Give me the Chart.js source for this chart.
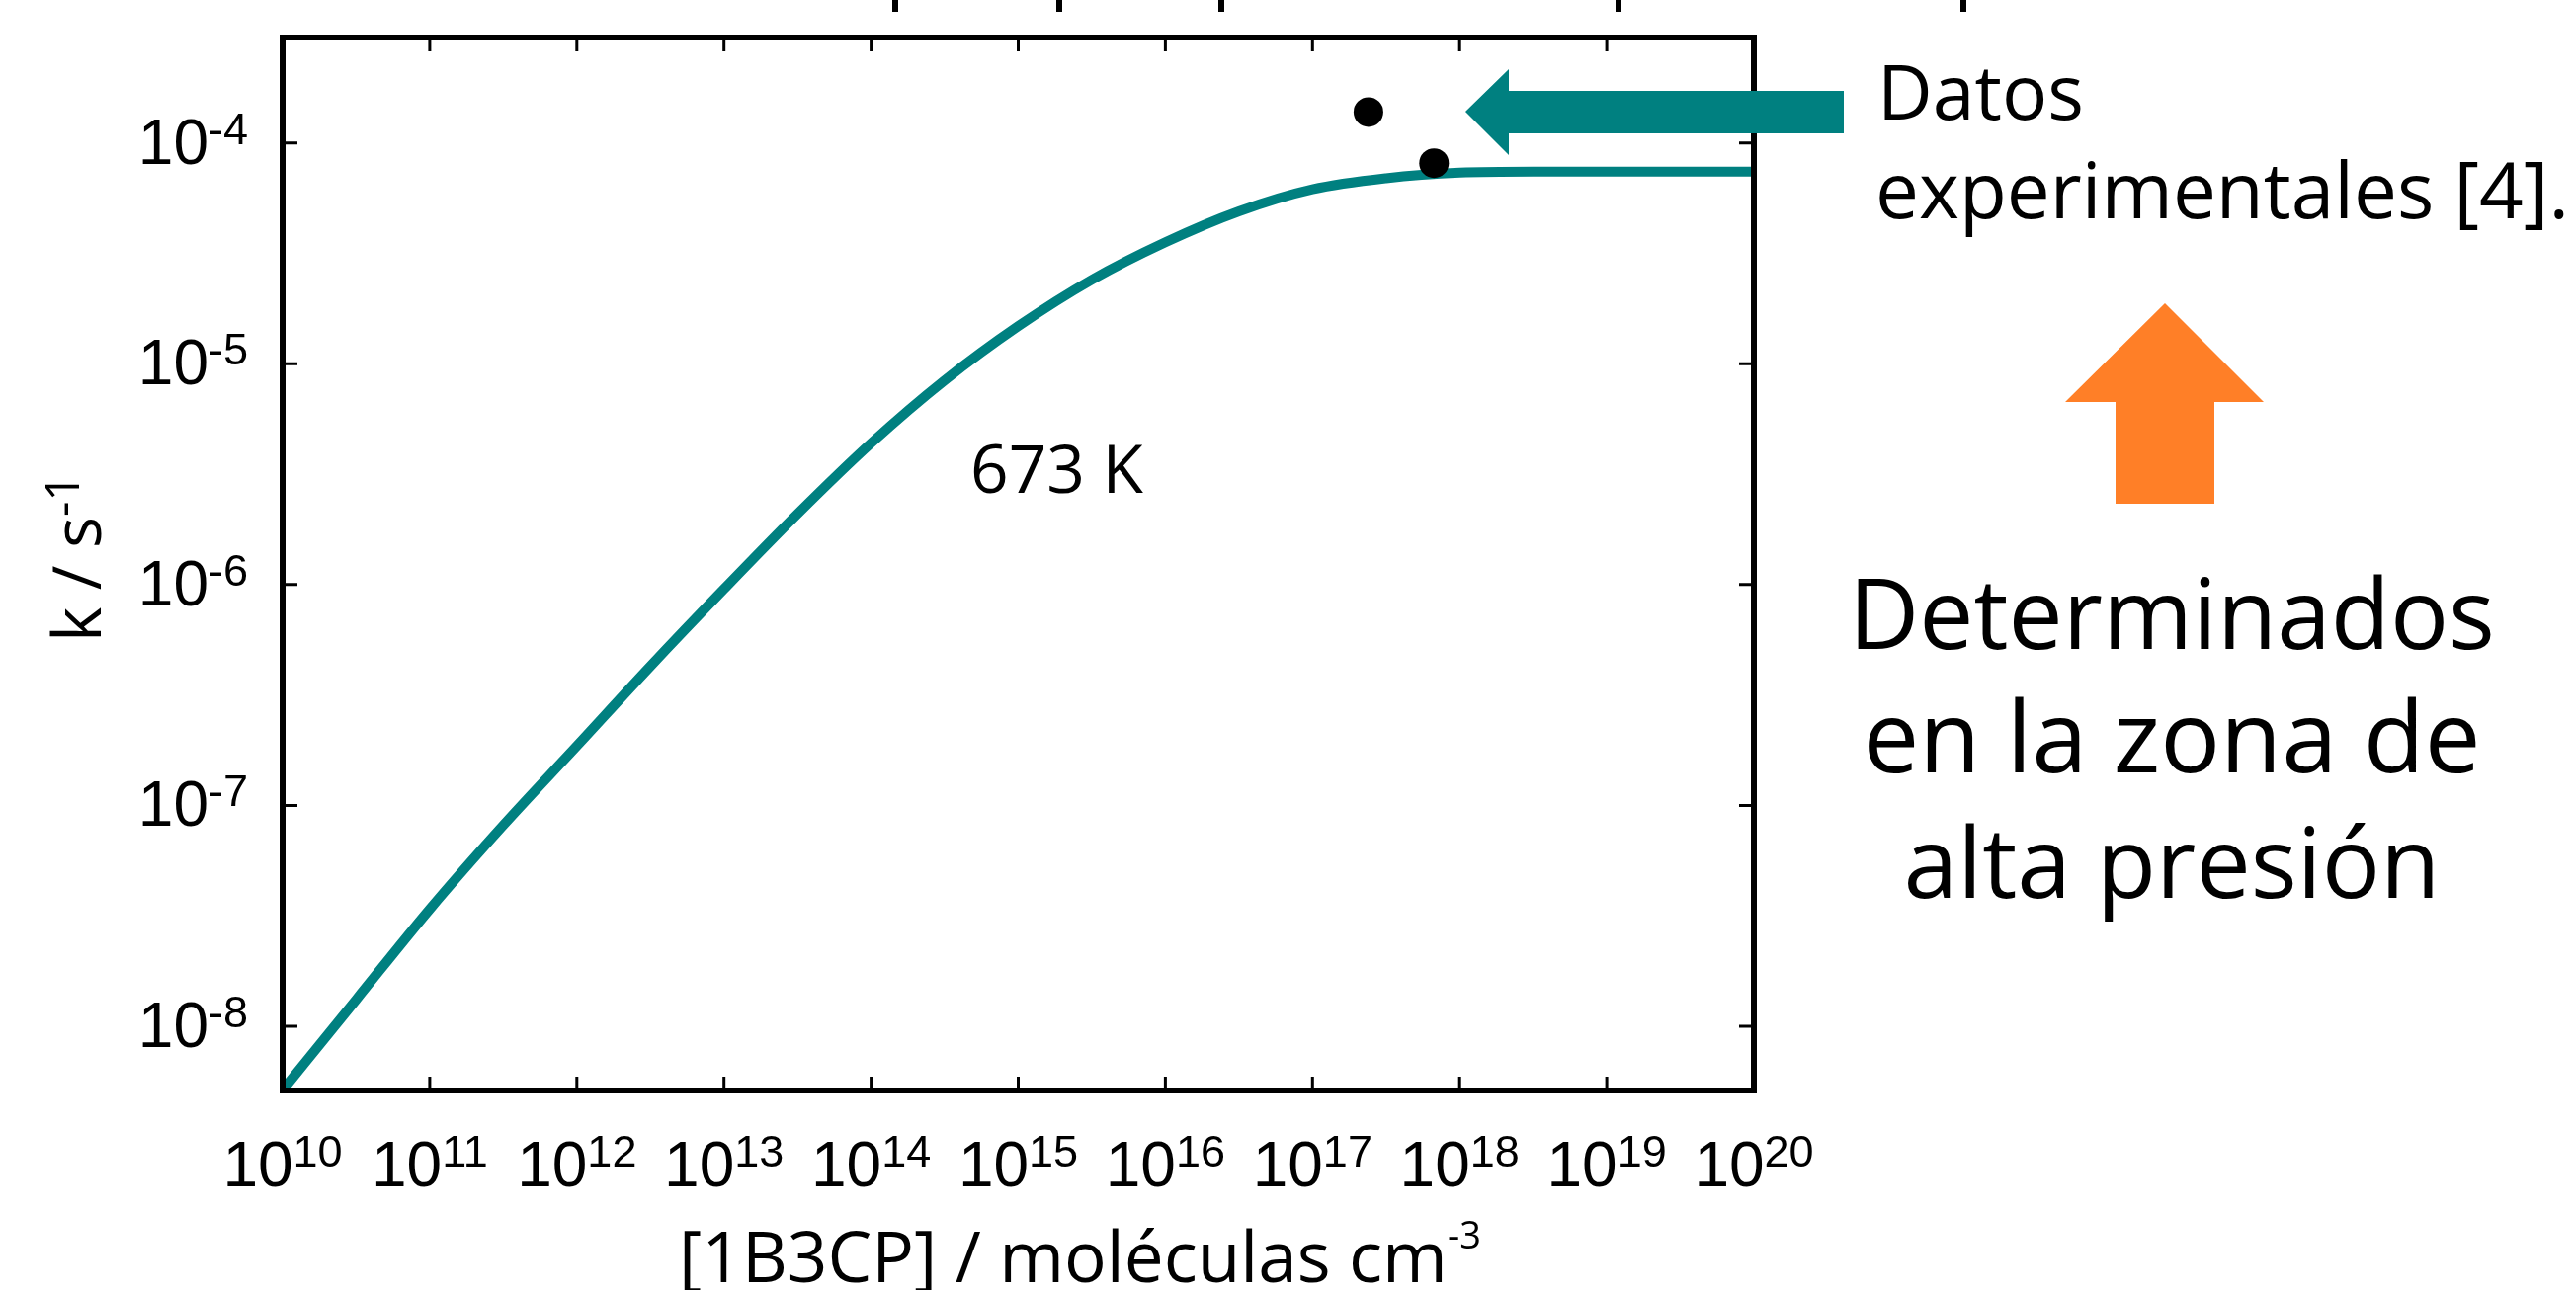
<!DOCTYPE html>
<html>
<head>
<meta charset="utf-8">
<script src="https://cdn.jsdelivr.net/npm/chart.js@4.4.1/dist/chart.umd.min.js"></script>
<style>
  html, body { margin: 0; padding: 0; background: #fff; }
  canvas { display: block; }
</style>
</head>
<body>
<canvas id="chart" width="2607" height="1306"></canvas>
<script>
// calculated curve at 673 K
const concentrations = [1e10, 3.16e10, 1e11, 3.16e11, 1e12, 3.16e12, 1e13, 3.16e13, 1e14, 3.16e14,
    1e15, 3.16e15, 1e16, 3.16e16, 1e17, 3.16e17, 1e18, 3.16e18, 1e19, 1e20];
const rateConstants = [5.13e-9, 1.32e-8, 3.39e-8, 8.13e-8, 1.86e-7, 4.27e-7, 9.55e-7, 2.09e-6, 4.37e-6, 8.41e-6,
    1.48e-5, 2.40e-5, 3.55e-5, 4.90e-5, 6.17e-5, 6.92e-5, 7.33e-5, 7.41e-5, 7.41e-5, 7.41e-5];

// experimental points [4]
const expConcentrations = [2.4e17, 6.7e17];
const expRates = [1.38e-4, 8.1e-5];

const xTickExponents = [10, 11, 12, 13, 14, 15, 16, 17, 18, 19, 20];
const yTickExponents = [-8, -7, -6, -5, -4];

const teal = '#008080';
const orange = '#FF7F27';
const tickFont = '"Liberation Sans", Arial, sans-serif';
const textFont = '"Open Sans", "Noto Sans", sans-serif';

function fitSize(ctx, text, family, target) {
    ctx.font = `100px ${family}`;
    return 100 * target / ctx.measureText(text).width;
}

// draws base + superscript; align refers to the whole group
function drawPower(ctx, base, sup, x, y, o) {
    ctx.font = `${o.size}px ${o.family}`;
    const wb = ctx.measureText(base).width;
    ctx.font = `${o.supSize}px ${o.family}`;
    const ws = ctx.measureText(sup).width;
    const total = wb + ws;
    let x0 = x;
    if (o.align === 'center') x0 = x - total / 2;
    if (o.align === 'right') x0 = x - total;
    ctx.textAlign = 'left';
    ctx.textBaseline = 'alphabetic';
    ctx.font = `${o.size}px ${o.family}`;
    ctx.fillText(base, x0, y);
    ctx.font = `${o.supSize}px ${o.family}`;
    ctx.fillText(sup, x0 + wb, y - o.rise);
}

const framePlugin = {
    id: 'frame',
    afterDatasetsDraw(chart) {
        const ctx = chart.ctx;
        const a = chart.chartArea;
        const xs = chart.scales.x;
        const ys = chart.scales.y;
        ctx.save();
        ctx.fillStyle = '#000';
        ctx.strokeStyle = '#000';

        // box
        ctx.lineWidth = 6;
        ctx.strokeRect(a.left, a.top, a.right - a.left, a.bottom - a.top);

        // inward ticks on all four sides
        ctx.lineWidth = 3;
        ctx.beginPath();
        xTickExponents.forEach(e => {
            const v = Math.pow(10, e);
            if (v <= xs.min || v >= xs.max) return;
            const px = xs.getPixelForValue(v);
            ctx.moveTo(px, a.bottom); ctx.lineTo(px, a.bottom - 14);
            ctx.moveTo(px, a.top); ctx.lineTo(px, a.top + 14);
        });
        yTickExponents.forEach(e => {
            const py = ys.getPixelForValue(Math.pow(10, e));
            ctx.moveTo(a.left, py); ctx.lineTo(a.left + 15, py);
            ctx.moveTo(a.right, py); ctx.lineTo(a.right - 15, py);
        });
        ctx.stroke();

        // tick labels
        const tk = { size: 64, supSize: 45, rise: 20, family: tickFont };
        xTickExponents.forEach(e => {
            const px = xs.getPixelForValue(Math.pow(10, e));
            drawPower(ctx, '10', String(e), px, a.bottom + 97, { ...tk, align: 'center' });
        });
        yTickExponents.forEach(e => {
            const py = ys.getPixelForValue(Math.pow(10, e));
            drawPower(ctx, '10', '-' + Math.abs(e), a.left - 35, py + 21, { ...tk, align: 'right' });
        });

        // x axis title
        const xMain = '[1B3CP] / moléculas cm';
        const xs1 = fitSize(ctx, xMain, textFont, 778);
        drawPower(ctx, xMain, '-3', 687, 1298, { size: xs1, supSize: 38, rise: 34, family: textFont, align: 'left' });

        // y axis title (rotated)
        ctx.save();
        ctx.translate(102, 565);
        ctx.rotate(-Math.PI / 2);
        const ys1 = fitSize(ctx, 'k / s', textFont, 127);
        drawPower(ctx, 'k / s', '-1', 0, 0, { size: ys1, supSize: 48, rise: 22, family: textFont, align: 'center' });
        ctx.restore();

        // temperature label
        ctx.textAlign = 'left';
        ctx.font = `${fitSize(ctx, '673 K', textFont, 175)}px ${textFont}`;
        ctx.fillText('673 K', 982, 499);

        // fragments of the cut-off heading at the top edge
        [906, 1072, 1236, 1638, 1987].forEach(x => ctx.fillRect(x - 3, 0, 6, 12));

        // teal arrow pointing at the experimental data
        ctx.fillStyle = teal;
        ctx.beginPath();
        ctx.moveTo(1483, 113);
        ctx.lineTo(1527, 70);
        ctx.lineTo(1527, 92);
        ctx.lineTo(1866, 92);
        ctx.lineTo(1866, 135);
        ctx.lineTo(1527, 135);
        ctx.lineTo(1527, 157);
        ctx.closePath();
        ctx.fill();

        // orange up arrow
        ctx.fillStyle = orange;
        ctx.beginPath();
        ctx.moveTo(2191, 307);
        ctx.lineTo(2291, 407);
        ctx.lineTo(2241, 407);
        ctx.lineTo(2241, 510);
        ctx.lineTo(2141, 510);
        ctx.lineTo(2141, 407);
        ctx.lineTo(2090, 407);
        ctx.closePath();
        ctx.fill();

        // right-hand texts
        ctx.fillStyle = '#000';
        ctx.textAlign = 'left';
        ctx.font = `${fitSize(ctx, 'Datos', textFont, 209)}px ${textFont}`;
        ctx.fillText('Datos', 1900, 121);
        ctx.font = `${fitSize(ctx, 'experimentales [4].', textFont, 702)}px ${textFont}`;
        ctx.fillText('experimentales [4].', 1898, 221);

        ctx.textAlign = 'center';
        const lines = [
            ['Determinados', 654, 657],
            ['en la zona de', 625, 782],
            ['alta presión', 543, 909]
        ];
        lines.forEach(([t, w, by]) => {
            ctx.font = `${fitSize(ctx, t, textFont, w)}px ${textFont}`;
            ctx.fillText(t, 2198, by);
        });
        ctx.restore();
    }
};

const ctx = document.getElementById('chart').getContext('2d');
new Chart(ctx, {
    type: 'scatter',
    data: {
        datasets: [
            {
                label: 'Datos experimentales',
                data: expConcentrations.map((x, i) => ({ x, y: expRates[i] })),
                pointRadius: 15,
                pointBackgroundColor: '#000',
                pointBorderWidth: 0,
                showLine: false,
                order: 0
            },
            {
                label: '673 K',
                data: concentrations.map((x, i) => ({ x, y: rateConstants[i] })),
                showLine: true,
                borderColor: teal,
                borderWidth: 10,
                pointRadius: 0,
                cubicInterpolationMode: 'monotone',
                order: 1
            }
        ]
    },
    options: {
        responsive: false,
        animation: false,
        devicePixelRatio: 1,
        layout: { padding: { left: 0, top: 38, right: 832, bottom: 0 } },
        plugins: { legend: { display: false }, tooltip: { enabled: false } },
        scales: {
            x: {
                type: 'logarithmic',
                min: 1e10,
                max: 1e20,
                grid: { display: false },
                border: { display: false },
                ticks: { display: false },
                afterFit: s => { s.height = 202; }
            },
            y: {
                type: 'logarithmic',
                min: 5.12e-9,
                max: 3.0e-4,
                grid: { display: false },
                border: { display: false },
                ticks: { display: false },
                afterFit: s => { s.width = 286; }
            }
        }
    },
    plugins: [framePlugin]
});
</script>
</body>
</html>
